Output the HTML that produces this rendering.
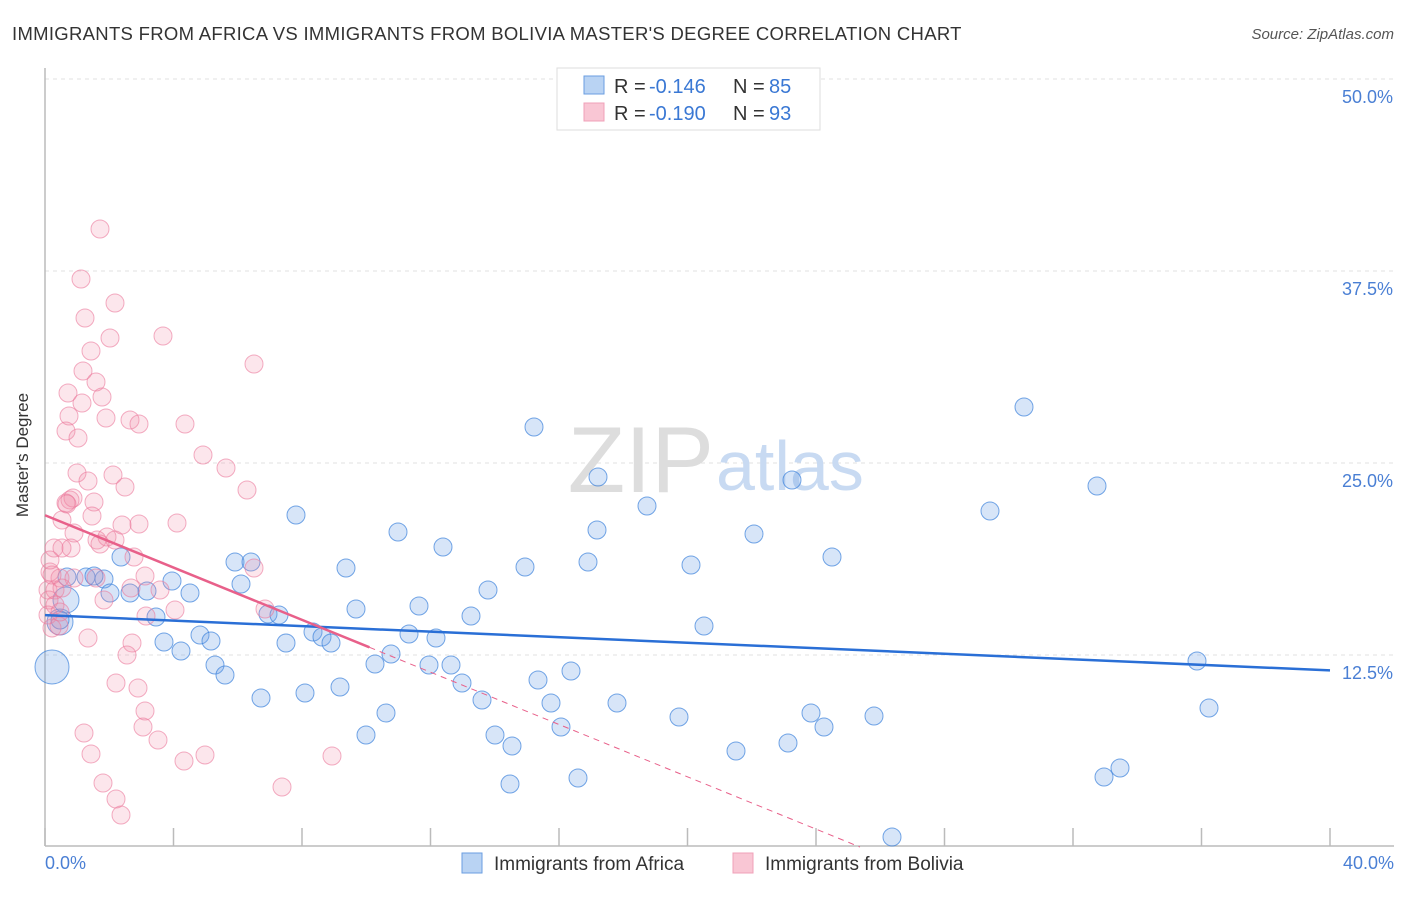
<!DOCTYPE html>
<html><head><meta charset="utf-8"><style>
body{margin:0;background:#fff;font-family:"Liberation Sans",sans-serif;}
svg text{font-family:"Liberation Sans",sans-serif;}
</style></head><body>
<svg id="chart" width="1406" height="892">
<text x="12" y="40" font-size="18.5" letter-spacing="0.3" fill="#333">IMMIGRANTS FROM AFRICA VS IMMIGRANTS FROM BOLIVIA MASTER'S DEGREE CORRELATION CHART</text>
<text x="1394" y="39" font-size="15" fill="#555" font-style="italic" text-anchor="end">Source: ZipAtlas.com</text>
<g id="grid"></g>
<text x="714" y="492" font-size="94" fill="#ddd" text-anchor="end" font-family="Liberation Serif">ZIP</text>
<text x="716" y="490" font-size="70" fill="#c8daf2">atlas</text>
<g id="axes"></g>
<g id="pts"></g>
<g id="trends"></g>
<text x="28" y="455" font-size="17" fill="#333" text-anchor="middle" transform="rotate(-90 28 455)">Master's Degree</text>
<text x="45" y="869" font-size="18" fill="#4a7fd4">0.0%</text>
<text x="1394" y="869" font-size="18" fill="#4a7fd4" text-anchor="end">40.0%</text>
<g>
<rect x="557" y="68" width="263" height="62" fill="#fff" stroke="#ddd"/>
<rect x="584" y="76" width="20" height="18" fill="#b9d3f3" stroke="#6a9ee0"/>
<rect x="584" y="103" width="20" height="18" fill="#f9c6d4" stroke="#f0a0b8"/>
<text x="614" y="93" font-size="20" fill="#333">R =</text>
<text x="649" y="93" font-size="20" fill="#3a78d4">-0.146</text>
<text x="733" y="93" font-size="20" fill="#333">N =</text>
<text x="769" y="93" font-size="20" fill="#3a78d4">85</text>
<text x="614" y="120" font-size="20" fill="#333">R =</text>
<text x="649" y="120" font-size="20" fill="#3a78d4">-0.190</text>
<text x="733" y="120" font-size="20" fill="#333">N =</text>
<text x="769" y="120" font-size="20" fill="#3a78d4">93</text>
</g>
<g>
<rect x="462" y="853" width="20" height="20" fill="#b9d3f3" stroke="#6a9ee0"/>
<text x="494" y="870" font-size="19" fill="#333">Immigrants from Africa</text>
<rect x="733" y="853" width="20" height="20" fill="#f9c6d4" stroke="#f0a0b8"/>
<text x="765" y="870" font-size="19" fill="#333">Immigrants from Bolivia</text>
</g>
</svg>
<script>
const yTicks=[12.5,25,37.5,50];
const yTickLabels=["12.5%","25.0%","37.5%","50.0%"];
const xTicks=[0,4,8,12,16,20,24,28,32,36,40];
const africaPx=[[534,427],[1024,407],[598,477],[792,480],[1097,486],[647,506],[990,511],[296,515],[398,532],[597,530],[754,534],[443,547],[235,562],[251,562],[832,557],[121,557],[346,568],[525,567],[588,562],[691,565],[241,584],[172,581],[488,590],[104,579],[86,577],[67,577],[94,576],[110,593],[130,593],[147,591],[190,593],[419,606],[356,609],[156,617],[268,614],[279,615],[471,616],[704,626],[313,632],[200,635],[164,642],[211,641],[322,637],[331,643],[286,643],[409,634],[436,638],[181,651],[391,654],[375,664],[215,665],[429,665],[451,665],[571,671],[1197,661],[538,680],[225,675],[462,683],[261,698],[305,693],[340,687],[482,700],[551,703],[617,703],[386,713],[679,717],[811,713],[874,716],[1209,708],[561,727],[824,727],[366,735],[495,735],[512,746],[736,751],[788,743],[578,778],[1120,768],[1104,777],[510,784],[892,837],[52,667],[60,622],[66,600],[60,620]];
const boliviaPx=[[100,229],[81,279],[115,303],[85,318],[110,338],[163,336],[91,351],[254,364],[83,371],[96,382],[68,393],[102,397],[82,403],[130,420],[139,424],[185,424],[69,416],[106,418],[66,431],[78,438],[203,455],[226,468],[77,473],[113,475],[88,481],[247,490],[125,487],[70,500],[73,498],[94,502],[66,503],[62,520],[92,516],[67,504],[177,523],[139,524],[122,525],[74,533],[97,540],[107,537],[115,540],[100,544],[54,548],[71,548],[62,548],[134,557],[254,568],[145,576],[50,572],[60,578],[74,578],[48,590],[55,590],[62,588],[96,578],[131,588],[160,590],[104,600],[49,600],[55,605],[48,615],[175,610],[265,609],[146,616],[52,628],[59,626],[88,638],[132,643],[127,655],[116,683],[138,688],[145,711],[84,733],[143,727],[158,740],[91,754],[332,756],[184,761],[205,755],[103,783],[282,787],[116,799],[121,815],[60,612],[52,575],[50,560]];
const toX=p=>(p-45)/1285*40, toY=p=>(847-p)/768*50;
const africaX=africaPx.map(p=>toX(p[0])), africaY=africaPx.map(p=>toY(p[1]));
const boliviaX=boliviaPx.map(p=>toX(p[0])), boliviaY=boliviaPx.map(p=>toY(p[1]));
const africaR=africaPx.map((p,i)=>i==81?17:(i==82||i==83)?13:9);
const africaTrend=[15.1,11.5];
const boliviaTrend=[21.6,13.0,10.1,0];
const sx=v=>45+v/40*1285, sy=v=>847-v/50*768;
const NS="http://www.w3.org/2000/svg";
function mk(t,a,parent){const e=document.createElementNS(NS,t);for(const k in a)e.setAttribute(k,a[k]);parent.appendChild(e);return e;}
const grid=document.getElementById('grid'),axes=document.getElementById('axes'),pts=document.getElementById('pts'),tr=document.getElementById('trends');
yTicks.forEach((v,i)=>{
 const l=mk('line',{x1:45,x2:1394,y1:sy(v),y2:sy(v),stroke:'#e2e2e2','stroke-dasharray':'4,4'},grid);
 
 
 const t=mk('text',{x:1393,y:sy(v)+24,'font-size':18,fill:'#4a7fd4','text-anchor':'end'},axes);
 t.textContent=yTickLabels[i];
 
 
});
mk('line',{x1:45,x2:45,y1:68,y2:846,stroke:'#bbb','stroke-width':1.5},axes);
mk('line',{x1:45,x2:1394,y1:846,y2:846,stroke:'#bbb','stroke-width':1.5},axes);
xTicks.forEach(v=>{
 const l=mk('line',{x1:sx(v),x2:sx(v),y1:828,y2:846,stroke:'#bbb','stroke-width':1.5},axes);
 
 
});
africaX.forEach((x,i)=>{
 const c=mk('circle',{cx:sx(x),cy:sy(africaY[i]),r:africaR[i],fill:'rgba(110,160,230,0.28)',stroke:'rgba(60,130,220,0.7)','stroke-width':1},pts);
 
 
});
boliviaX.forEach((x,i)=>{
 const c=mk('circle',{cx:sx(x),cy:sy(boliviaY[i]),r:9,fill:'rgba(240,140,170,0.22)',stroke:'rgba(235,120,155,0.6)','stroke-width':1},pts);
 
 
});
let l=mk('line',{x1:sx(0),y1:sy(africaTrend[0]),x2:sx(40),y2:sy(africaTrend[1]),stroke:'#2a6fd6','stroke-width':2.5},tr);


l=mk('line',{x1:sx(0),y1:sy(boliviaTrend[0]),x2:sx(boliviaTrend[2]),y2:sy(boliviaTrend[1]),stroke:'#e8608a','stroke-width':2.5},tr);


const slope=(boliviaTrend[1]-boliviaTrend[0])/boliviaTrend[2];
const xEnd=(boliviaTrend[3]-boliviaTrend[0])/slope;
l=mk('line',{x1:sx(boliviaTrend[2]),y1:sy(boliviaTrend[1]),x2:sx(xEnd),y2:sy(boliviaTrend[3]),stroke:'#e8608a','stroke-width':1,'stroke-dasharray':'6,5'},tr);


</script>
</body></html>
